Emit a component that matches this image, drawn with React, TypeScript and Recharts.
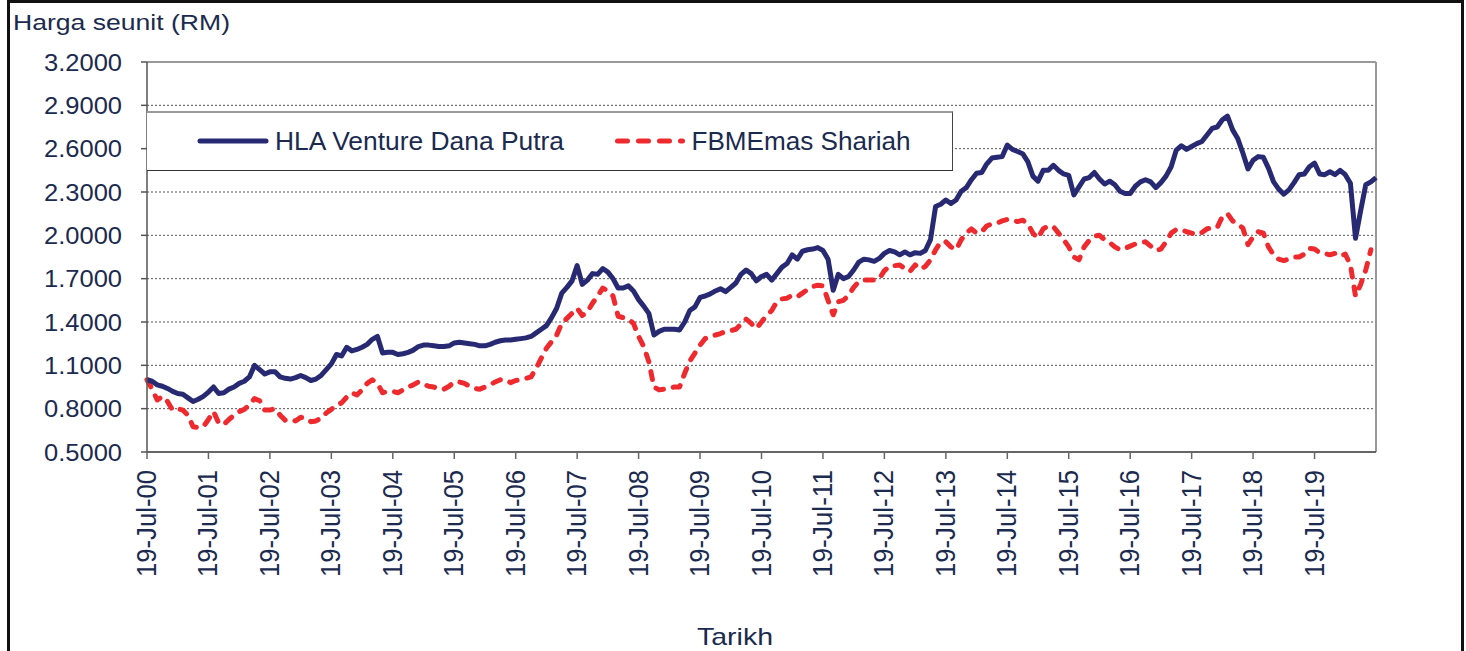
import React from 'react';
import { LineChart, Line, XAxis, YAxis, CartesianGrid, ReferenceLine, Legend } from 'recharts';

const FONT = '"Liberation Sans", Arial, sans-serif';
const TXT = '#1b2a4f';
const BLUE = '#272a72';
const RED = '#ee2a2e';

const seriesNames = ['HLA Venture Dana Putra', 'FBMEmas Shariah'];

const tickLabels = [
  '19-Jul-00', '19-Jul-01', '19-Jul-02', '19-Jul-03', '19-Jul-04',
  '19-Jul-05', '19-Jul-06', '19-Jul-07', '19-Jul-08', '19-Jul-09',
  '19-Jul-10', '19-Jul-11', '19-Jul-12', '19-Jul-13', '19-Jul-14',
  '19-Jul-15', '19-Jul-16', '19-Jul-17', '19-Jul-18', '19-Jul-19',
];

const yTicks = [0.5, 0.8, 1.1, 1.4, 1.7, 2.0, 2.3, 2.6, 2.9, 3.2];

// monthly unit prices, Jul 2000 .. Jul 2020
const hlaPrices = [
  1.00, 0.99, 0.965, 0.955, 0.94, 0.92, 0.905, 0.90, 0.875, 0.85,
  0.865, 0.885, 0.915, 0.95, 0.905, 0.91, 0.935, 0.95, 0.975, 0.99,
  1.02, 1.10, 1.07, 1.04, 1.055, 1.055, 1.02, 1.01, 1.005, 1.015,
  1.03, 1.015, 0.995, 1.005, 1.03, 1.07, 1.11, 1.175, 1.165, 1.225,
  1.20, 1.21, 1.225, 1.245, 1.28, 1.30, 1.185, 1.19, 1.19, 1.175,
  1.18, 1.19, 1.205, 1.23, 1.24, 1.24, 1.235, 1.23, 1.23, 1.235,
  1.255, 1.26, 1.255, 1.25, 1.245, 1.235, 1.235, 1.245, 1.26, 1.27,
  1.275, 1.275, 1.28, 1.285, 1.29, 1.30, 1.325, 1.35, 1.375, 1.43,
  1.495, 1.60, 1.64, 1.685, 1.79, 1.66, 1.69, 1.735, 1.73, 1.77,
  1.745, 1.70, 1.635, 1.635, 1.65, 1.615, 1.555, 1.51, 1.46, 1.31,
  1.335, 1.35, 1.35, 1.35, 1.345, 1.40, 1.48, 1.505, 1.57, 1.58,
  1.595, 1.615, 1.63, 1.61, 1.64, 1.67, 1.73, 1.76, 1.735, 1.685,
  1.715, 1.73, 1.69, 1.735, 1.78, 1.805, 1.865, 1.835, 1.89, 1.90,
  1.905, 1.915, 1.895, 1.835, 1.62, 1.73, 1.70, 1.715, 1.76, 1.815,
  1.835, 1.83, 1.82, 1.84, 1.875, 1.895, 1.885, 1.865, 1.885, 1.865,
  1.88, 1.875, 1.895, 1.97, 2.20, 2.215, 2.245, 2.22, 2.245, 2.305,
  2.33, 2.385, 2.43, 2.435, 2.495, 2.535, 2.54, 2.545, 2.625, 2.595,
  2.58, 2.565, 2.51, 2.41, 2.375, 2.45, 2.45, 2.485, 2.45, 2.425,
  2.415, 2.28, 2.335, 2.39, 2.40, 2.435, 2.39, 2.355, 2.375, 2.35,
  2.305, 2.29, 2.29, 2.34, 2.37, 2.385, 2.37, 2.33, 2.365, 2.41,
  2.475, 2.59, 2.62, 2.595, 2.615, 2.635, 2.65, 2.695, 2.74, 2.75,
  2.80, 2.825, 2.73, 2.67, 2.57, 2.46, 2.52, 2.545, 2.54, 2.465,
  2.37, 2.32, 2.285, 2.315, 2.365, 2.42, 2.425, 2.475, 2.50, 2.425,
  2.42, 2.44, 2.42, 2.45, 2.42, 2.36, 1.98, 2.17, 2.35, 2.37,
  2.40,
];

const fbmPrices: (number | null)[] = [
  1.00, 0.935, 0.86, 0.885, 0.85, 0.79, 0.80, 0.79, 0.755, 0.675,
  0.67, 0.675, 0.725, 0.78, 0.70, 0.69, 0.725, 0.755, 0.78, 0.795,
  0.825, 0.87, 0.855, 0.79, 0.79, 0.80, 0.755, 0.72, 0.725, 0.715,
  0.74, 0.735, 0.71, 0.715, 0.735, 0.77, 0.795, 0.825, 0.84, 0.88,
  0.91, 0.895, 0.93, 0.975, 1.00, 0.975, 0.91, 0.92, 0.92, 0.91,
  0.93, 0.95, 0.965, 0.985, 0.97, 0.955, 0.95, 0.935, 0.935, 0.955,
  0.985, 0.985, 0.975, 0.955, 0.94, 0.935, 0.95, 0.965, 0.985, 1.00,
  1.00, 0.98, 0.995, 1.00, 1.01, 1.02, 1.08, 1.15, 1.218, 1.264,
  1.31, 1.39, 1.425, 1.46, 1.495, 1.445, 1.47, 1.53, 1.58, 1.635,
  1.615, 1.58, 1.44, 1.43, 1.42, 1.39, 1.30, 1.23, 1.125, 0.95,
  0.93, 0.935, 0.945, 0.95, 0.95, 1.045, 1.13, 1.185, 1.24, 1.285,
  1.30, 1.31, 1.32, 1.335, 1.34, 1.35, 1.385, 1.42, 1.39, 1.355,
  1.40, 1.445, 1.48, 1.54, 1.56, 1.565, 1.585, 1.575, 1.60, 1.625,
  1.645, 1.655, 1.65, 1.55, 1.45, 1.54, 1.55, 1.585, 1.64, 1.68,
  1.69, 1.69, 1.69, 1.70, 1.755, 1.785, 1.79, 1.795, 1.77, 1.75,
  1.795, 1.765, 1.785, 1.83, 1.90, 1.955, 1.955, 1.92, 1.90, 1.97,
  2.015, 2.045, 2.015, 2.025, 2.065, 2.08, 2.085, 2.10, 2.11, 2.105,
  2.095, 2.105, 2.08, 2.015, 1.98, 2.045, 2.065, 2.06, 2.015, 1.97,
  1.92, 1.85, 1.83, 1.92, 1.965, 1.995, 2.00, 1.97, 1.95, 1.92,
  1.90, 1.91, 1.925, 1.94, 1.95, 1.955, 1.925, 1.895, 1.905, 1.955,
  2.015, 2.04, 2.04, 2.025, 2.015, 2.005, 2.02, 2.045, 2.05, 2.055,
  2.13, 2.15, 2.10, 2.08, 2.05, 1.935, 1.99, 2.025, 2.015, 1.92,
  1.865, 1.835, 1.825, 1.835, 1.85, 1.85, 1.87, 1.91, 1.905, 1.88,
  1.875, 1.865, 1.875, 1.855, 1.87, 1.795, 1.58, 1.66, 1.76, 1.90,
  null,
];

const data = hlaPrices.map((v, i) => ({ month: i, hla: v, fbm: fbmPrices[i] ?? null }));
const xTicks = tickLabels.map((_, k) => k * 12);
const lastMonth = hlaPrices.length - 1;

const XTick = (props: any) => {
  const { x, y, payload } = props;
  const label = tickLabels[Math.round(payload.value / 12)];
  return (
    <text
      x={x}
      y={y}
      transform={`rotate(-90 ${x} ${y})`}
      textAnchor="end"
      dominantBaseline="central"
      fontFamily={FONT}
      fontSize={27}
      fill={TXT}
      textLength={107}
      lengthAdjust="spacingAndGlyphs"
    >
      {label}
    </text>
  );
};

const YTick = (props: any) => {
  const { x, y, payload } = props;
  return (
    <text
      x={x}
      y={y}
      textAnchor="end"
      dominantBaseline="central"
      fontFamily={FONT}
      fontSize={24}
      fill={TXT}
      textLength={78}
      lengthAdjust="spacingAndGlyphs"
    >
      {Number(payload.value).toFixed(4)}
    </text>
  );
};

const LegendBox = () => (
  <div
    style={{
      width: 806,
      height: 60,
      boxSizing: 'border-box',
      background: '#fff',
      borderTop: '2px solid #9a9a9a',
      borderRight: '1.5px solid #444',
      borderBottom: '1.5px solid #333',
    }}
  >
    <svg width={806} height={58} style={{ display: 'block' }}>
      <line x1={53} y1={28} x2={119} y2={28} stroke={BLUE} strokeWidth={5} strokeLinecap="round" />
      <text x={128} y={36.5} fontFamily={FONT} fontSize={25} fill={TXT} textLength={289} lengthAdjust="spacingAndGlyphs">
        {seriesNames[0]}
      </text>
      <line x1={470.5} y1={28} x2={535.5} y2={28} stroke={RED} strokeWidth={5} strokeLinecap="round" strokeDasharray="10 11" />
      <text x={544.5} y={36.5} fontFamily={FONT} fontSize={25} fill={TXT} textLength={219} lengthAdjust="spacingAndGlyphs">
        {seriesNames[1]}
      </text>
    </svg>
  </div>
);

export default function App() {
  return (
    <div style={{ position: 'absolute', left: 0, top: 0, width: 1466, height: 651, overflow: 'hidden', background: '#fff' }}>
      <LineChart
        width={1466}
        height={651}
        data={data}
        margin={{ top: 62, right: 90, bottom: 0, left: 0 }}
      >
        <CartesianGrid vertical={false} stroke="#555" strokeDasharray="2 2" strokeWidth={1} />
        <XAxis
          dataKey="month"
          type="number"
          domain={[0, lastMonth]}
          ticks={xTicks}
          interval={0}
          height={199}
          tick={<XTick />}
          tickSize={7}
          tickMargin={11}
          axisLine={{ stroke: '#666', strokeWidth: 2 }}
          tickLine={{ stroke: '#666', strokeWidth: 1.5 }}
        />
        <YAxis
          type="number"
          domain={[0.5, 3.2]}
          ticks={yTicks}
          interval={0}
          width={147}
          tick={<YTick />}
          tickSize={6}
          tickMargin={19}
          axisLine={{ stroke: '#555', strokeWidth: 1.5 }}
          tickLine={{ stroke: '#555', strokeWidth: 1.5 }}
        />
        <ReferenceLine y={3.2} stroke="#999" strokeWidth={2} />
        <ReferenceLine x={lastMonth} stroke="#999" strokeWidth={2} />
        <Legend
          layout="vertical"
          align="center"
          verticalAlign="middle"
          content={<LegendBox />}
          wrapperStyle={{ left: 147, top: 111, width: 806, height: 60 }}
        />
        <Line
          type="linear"
          dataKey="fbm"
          name={seriesNames[1]}
          stroke={RED}
          strokeWidth={5}
          strokeDasharray="8 10"
          strokeLinecap="round"
          strokeLinejoin="round"
          dot={false}
          activeDot={false}
          isAnimationActive={false}
        />
        <Line
          type="linear"
          dataKey="hla"
          name={seriesNames[0]}
          stroke={BLUE}
          strokeWidth={5}
          strokeLinejoin="round"
          dot={false}
          activeDot={false}
          isAnimationActive={false}
        />
      </LineChart>
      <svg
        width={1466}
        height={651}
        style={{ position: 'absolute', left: 0, top: 0, pointerEvents: 'none' }}
      >
        <text x={13} y={29.5} fontFamily={FONT} fontSize={22.5} fill={TXT} textLength={217} lengthAdjust="spacingAndGlyphs">
          Harga seunit (RM)
        </text>
        <text x={697} y={645} fontFamily={FONT} fontSize={24} fill={TXT} textLength={76} lengthAdjust="spacingAndGlyphs">
          Tarikh
        </text>
      </svg>
      <div
        style={{
          position: 'absolute',
          left: 7,
          top: 0,
          width: 1457,
          height: 700,
          boxSizing: 'border-box',
          border: '3px solid #111',
          pointerEvents: 'none',
        }}
      />
    </div>
  );
}
